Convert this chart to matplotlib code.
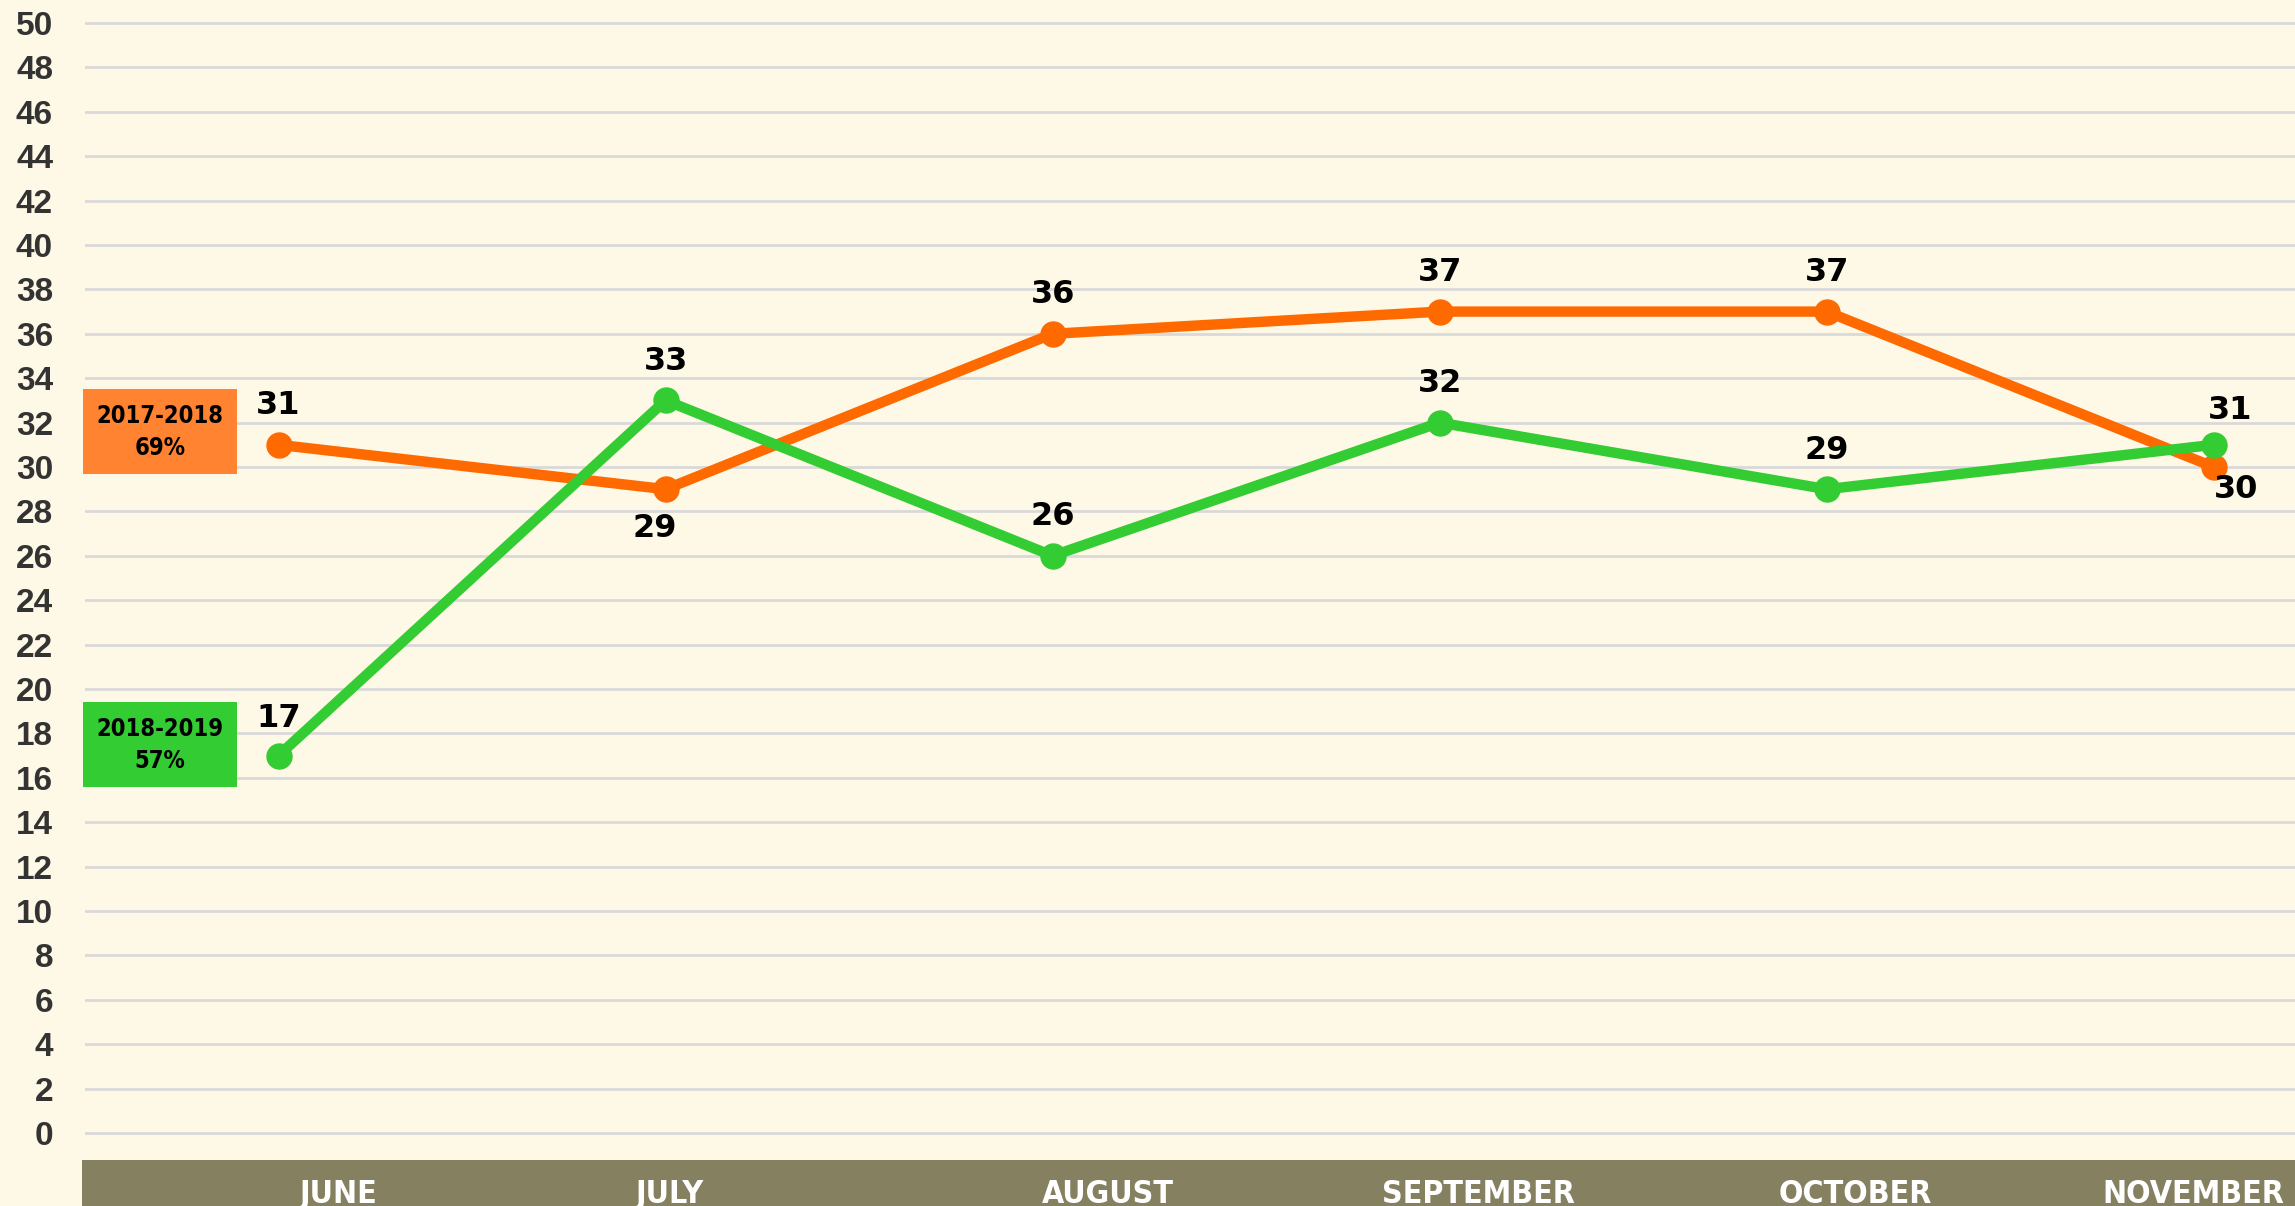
#!/usr/bin/env python3
# -*- coding: utf-8 -*-

# +
# import(s)
# -
import matplotlib
matplotlib.use('Agg')
import matplotlib.pyplot as plt
from matplotlib.patches import Rectangle


# +
# constant(s)
# -
MONTHS = ['JUNE', 'JULY', 'AUGUST', 'SEPTEMBER', 'OCTOBER', 'NOVEMBER']
SEASON_A = '2017-2018'
SEASON_B = '2018-2019'
SEASON_A_PCT = '69%'
SEASON_B_PCT = '57%'
VALUES_A = [31, 29, 36, 37, 37, 30]
VALUES_B = [17, 33, 26, 32, 29, 31]
Y_TICKS = list(range(0, 51, 2))

BG = '#FEF8E6'
ORANGE = '#FF6A00'
ORANGE_BOX = '#FF8330'
GREEN = '#33CC33'
BAR = '#858060'
W, H = 2295, 1206

# label offsets (points) for each data label
OFF_A = [(0, 28), (-8, -28), (0, 28), (0, 28), (0, 28), (16, -16)]
OFF_B = [(0, 27), (0, 28), (0, 28), (0, 28), (0, 28), (12, 25)]
# month label x positions in figure pixels (not aligned with points in original)
MONTH_X = [338, 670, 1108, 1478, 1855, 2193]


def fx(px):
    return px / W


def fy(py):
    return 1 - py / H


fig = plt.figure(figsize=(W / 100, H / 100), dpi=100)
fig.patch.set_facecolor(BG)

# main axes: y=0 at 1133px, y=50 at 23px -> 22.2px/unit, pad one unit
unit = (1133 - 23) / 50
ax = fig.add_axes([fx(85), fy(1133 + unit), 1 - fx(85), (1133 - 23 + 2 * unit) / H])
ax.set_facecolor(BG)
ax.set_ylim(-1, 51)
ax.set_xlim(-0.5, 5.21)
for s in ax.spines.values():
    s.set_visible(False)
ax.set_yticks(Y_TICKS)
ax.set_xticks([])
ax.tick_params(axis='y', length=0, pad=23, labelsize=24, labelcolor='#333333')
for t in ax.get_yticklabels():
    t.set_fontweight('bold')
    t.set_family(['Liberation Sans', 'DejaVu Sans'])
ax.yaxis.grid(True, color='#D9D9D9', linewidth=2)
ax.set_axisbelow(True)

x = list(range(len(MONTHS)))
ax.plot(x, VALUES_A, color=ORANGE, lw=7.5, marker='o', ms=18, clip_on=False, zorder=3)
ax.plot(x, VALUES_B, color=GREEN, lw=7.5, marker='o', ms=18, clip_on=False, zorder=4)

for i, v in enumerate(VALUES_A):
    ax.annotate(str(v), (x[i], v), xytext=OFF_A[i], textcoords='offset points',
                ha='center', va='center', fontsize=23, fontweight='bold', color='black')
for i, v in enumerate(VALUES_B):
    ax.annotate(str(v), (x[i], v), xytext=OFF_B[i], textcoords='offset points',
                ha='center', va='center', fontsize=23, fontweight='bold', color='black')

# series boxes on the left
for (top, bot, col, name, pct) in [(389, 474, ORANGE_BOX, SEASON_A, SEASON_A_PCT),
                                   (702, 787, GREEN, SEASON_B, SEASON_B_PCT)]:
    fig.patches.append(Rectangle((fx(83), fy(bot)), fx(237) - fx(83), (bot - top) / H,
                                 transform=fig.transFigure, facecolor=col, edgecolor='none'))
    fig.text(fx(160), fy(top + (bot - top) * 0.32), name, ha='center', va='center',
             fontsize=17, fontweight='bold', stretch='condensed', color='black')
    fig.text(fx(160), fy(top + (bot - top) * 0.70), pct, ha='center', va='center',
             fontsize=17, fontweight='bold', stretch='condensed', color='black')

# bottom category bar
bar = fig.add_axes([fx(82), 0, 1 - fx(82), (H - 1160) / H])
bar.set_facecolor(BAR)
bar.set_xticks([])
bar.set_yticks([])
for s in bar.spines.values():
    s.set_visible(False)
for m, px in zip(MONTHS, MONTH_X):
    fig.text(fx(px), fy(1203), m, ha='center', va='baseline', fontsize=23,
             fontweight='bold', stretch='condensed', color='white')

plt.savefig('out.png', dpi=100, facecolor=BG)
